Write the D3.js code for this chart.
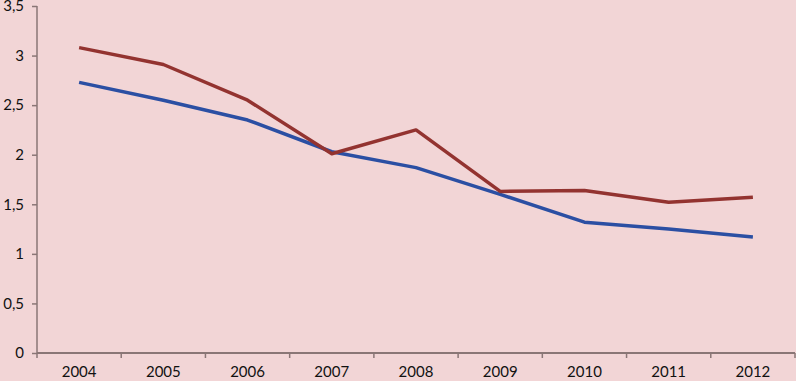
<!DOCTYPE html>
<html>
<head>
<meta charset="utf-8">
<script src="https://cdn.jsdelivr.net/npm/d3@7"></script>
<style>
  body { margin: 0; background: #f2d5d6; }
  svg { display: block; }
  .axis text { font-family: Lato, 'Open Sans', sans-serif; font-size: 15px; fill: #111; }
</style>
</head>
<body>
<div id="chart"></div>
<script>
const MARGIN = { TOP: 6, RIGHT: 1, BOTTOM: 28, LEFT: 37 };
const W = 796, H = 381;

const years = ['2004', '2005', '2006', '2007', '2008', '2009', '2010', '2011', '2012'];
const blueSeries = [2.73, 2.55, 2.35, 2.03, 1.87, 1.60, 1.32, 1.25, 1.17];
const redSeries = [3.08, 2.91, 2.55, 2.01, 2.25, 1.63, 1.64, 1.52, 1.57];
const yTicks = [0, 0.5, 1, 1.5, 2, 2.5, 3, 3.5];

const width = W - MARGIN.LEFT - MARGIN.RIGHT;
const height = H - MARGIN.TOP - MARGIN.BOTTOM;

const svg = d3.select('#chart')
  .append('svg')
  .attr('width', W)
  .attr('height', H);

svg.append('rect').attr('width', W).attr('height', H).attr('fill', '#f2d5d6');

const g = svg.append('g')
  .attr('transform', `translate(${MARGIN.LEFT}, ${MARGIN.TOP})`);

const x = d3.scaleBand().domain(years).range([0, width]);
const y = d3.scaleLinear().domain([0, 3.5]).range([height, 0]);

const fmt = d => String(d).replace('.', ',');

// y axis
const yAxis = g.append('g')
  .attr('class', 'axis')
  .call(d3.axisLeft(y).tickValues(yTicks).tickFormat(fmt).tickSize(5).tickPadding(8));
yAxis.selectAll('line, path').attr('stroke', '#8a7676').attr('stroke-width', 1.5);
yAxis.select('.domain').attr('d', `M0,0V${height}`);

// x axis, ticks sit between the categories
const xAxis = g.append('g')
  .attr('class', 'axis')
  .attr('transform', `translate(0, ${height})`)
  .call(d3.axisBottom(x).tickSize(0).tickPadding(13));
xAxis.select('.domain').attr('d', `M0,0H${width}`).attr('stroke', '#8a7676').attr('stroke-width', 2);
xAxis.selectAll('.between')
  .data(years.concat(['end']))
  .enter()
  .append('line')
  .attr('class', 'between')
  .attr('x1', (d, i) => i * x.bandwidth())
  .attr('x2', (d, i) => i * x.bandwidth())
  .attr('y1', 0)
  .attr('y2', 5)
  .attr('stroke', '#8a7676')
  .attr('stroke-width', 1.5);

const line = d3.line()
  .x((d, i) => x(years[i]) + x.bandwidth() / 2)
  .y(d => y(d));

g.append('path')
  .datum(blueSeries)
  .attr('fill', 'none')
  .attr('stroke', '#2b4fa3')
  .attr('stroke-width', 3.5)
  .attr('stroke-linejoin', 'round')
  .attr('d', line);

g.append('path')
  .datum(redSeries)
  .attr('fill', 'none')
  .attr('stroke', '#933330')
  .attr('stroke-width', 3.5)
  .attr('stroke-linejoin', 'round')
  .attr('d', line);
</script>
</body>
</html>
